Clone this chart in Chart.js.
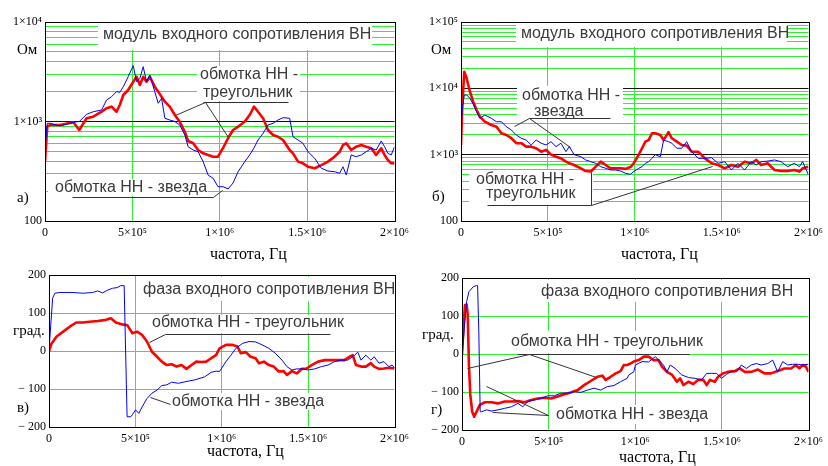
<!DOCTYPE html>
<html><head><meta charset="utf-8">
<script src="https://cdn.jsdelivr.net/npm/chart.js@4.4.1/dist/chart.umd.min.js"></script>
<style>
html,body{margin:0;padding:0;background:#fff;width:828px;height:466px;overflow:hidden}
#wrap{position:relative;width:828px;height:466px}
canvas{position:absolute}
.t{position:absolute;white-space:nowrap;z-index:5}
.s{font-family:'Liberation Sans',Arial,sans-serif;color:#3a3a3a}
.r{font-family:'Liberation Serif','Times New Roman',serif;color:#000}
</style></head><body><div id="wrap">
<canvas id="ca" width="414" height="245" style="left:0;top:0"></canvas>
<canvas id="cb" width="414" height="245" style="left:414px;top:0"></canvas>
<canvas id="cc" width="414" height="221" style="left:0;top:245px"></canvas>
<canvas id="cd" width="414" height="221" style="left:414px;top:245px"></canvas>
</div>
<script>
// ---------- tick values / labels ----------
const xTickValues = [0, 500000, 1000000, 1500000, 2000000];
const xTickLabels = ['0', '5×10⁵', '1×10⁶', '1.5×10⁶', '2×10⁶'];
const yDecadesA = [100, 1000, 10000];
const yDecadeLabelsA = ['100', '1×10³', '1×10⁴'];
const yDecadesB = [100, 1000, 10000, 100000];
const yDecadeLabelsB = ['100', '1×10³', '1×10⁴', '1×10⁵'];
const phaseTicks = [-200, -100, 0, 100, 200];
const phaseTickLabels = ['− 200', '− 100', '0', '100', '200'];

// ---------- panel а: impedance modulus, Ohm ----------
const freqA = [0,13000,29000,86000,162000,196000,238000,276000,324000,352000,381000,409000,428000,448000,476000,505000,524000,543000,562000,581000,600000,628000,648000,667000,686000,714000,743000,771000,800000,819000,848000,876000,905000,933000,962000,990000,1019000,1048000,1076000,1105000,1143000,1171000,1196000,1219000,1248000,1276000,1305000,1333000,1362000,1400000,1419000,1448000,1476000,1505000,1543000,1581000,1619000,1657000,1686000,1705000,1724000,1752000,1781000,1810000,1838000,1867000,1895000,1924000,1943000,1962000,1981000,2000000];
const deltaA = [395,887,922,922,982,822,1077,1117,1254,1358,1409,1254,1465,1846,2073,2512,2818,2328,2818,2512,2818,2239,1995,1775,1581,1409,1162,995,789,637,604,517,479,461,443,443,542,683,822,887,1000,1162,1409,1254,1077,822,731,703,652,517,479,395,380,351,339,365,395,443,497,581,604,517,558,581,558,538,461,538,461,410,380,380];
const starA = [538,959,959,901,982,1000,1181,1254,1305,1644,1775,1995,1963,2239,2818,3639,2512,2716,3556,2512,2931,1995,1524,1710,1077,1035,1000,922,731,558,517,497,395,290,269,221,221,210,241,313,395,461,542,652,761,922,959,1035,1092,1077,703,652,604,497,427,339,318,313,302,351,290,461,443,461,497,538,517,637,558,479,461,558];

// ---------- panel б: impedance modulus, Ohm ----------
const freqB = [0,8000,19000,32500,51400,70300,89700,108600,137000,175000,204000,232600,261000,290000,318000,347000,375000,404000,432600,461000,489700,518000,547000,575000,604000,623000,651000,690000,718000,747000,775000,804000,832600,861000,890000,918000,947000,975000,994000,1023000,1042000,1061000,1080000,1099000,1118000,1147000,1166000,1194000,1213000,1242000,1270000,1299000,1327000,1366000,1404000,1442000,1480000,1518000,1556000,1594000,1632000,1670000,1699000,1727000,1766000,1804000,1842000,1880000,1918000,1947000,1966000,2000000];
const deltaB = [1400,6000,17800,14200,8900,6290,4710,3740,3140,2800,2640,2100,1980,1770,1490,1490,1320,1320,1250,1110,1180,1000,930,880,784,741,699,623,567,556,659,784,699,623,623,623,610,650,741,1000,1250,1570,1660,2100,2100,1980,1660,2190,1770,1570,1400,1370,1110,1100,880,741,699,623,699,659,784,741,832,699,741,587,567,567,587,556,623,659];
const starB = [2640,5000,7900,7940,7080,5740,4440,3530,3960,3530,3140,3140,2640,2350,1980,1770,1660,1400,1660,1490,1400,1570,1320,1490,1110,1320,1000,930,832,784,741,659,623,587,587,567,524,506,556,623,659,741,784,880,1000,930,1660,1570,1490,1250,1250,1570,1110,880,880,900,741,784,587,741,587,784,699,784,800,832,784,659,741,659,784,494];

// ---------- panel в: phase, degrees ----------
const freqC_delta = [0,15000,44000,82000,120000,158000,196000,234000,282000,330000,358000,387000,425000,453000,482000,510000,539000,567000,596000,625000,653000,682000,710000,739000,767000,796000,825000,853000,882000,910000,939000,967000,987000,1024000,1063000,1091000,1110000,1139000,1167000,1196000,1215000,1244000,1273000,1301000,1330000,1358000,1377000,1406000,1434000,1463000,1491000,1520000,1558000,1596000,1634000,1672000,1710000,1739000,1758000,1777000,1806000,1834000,1863000,1882000,1910000,1939000,1967000,2000000];
const phaseC_delta = [0,20,38,51,64,75,75,77,79,82,86,75,70,68,47,51,42,25,-2,-15,-28,-37,-35,-41,-37,-47,-37,-28,-29,-28,-19,-11,7,16,16,12,-6,-3,-15,-19,-32,-28,-37,-41,-54,-53,-63,-53,-59,-47,-46,-37,-28,-24,-24,-24,-24,-15,-11,-37,-41,-41,-32,-41,-47,-46,-44,-46];
const freqC_star = [0,10000,21000,34000,63000,139000,196000,253000,282000,310000,339000,367000,396000,415000,435000,452000,473000,482000,501000,520000,539000,567000,596000,625000,653000,682000,710000,749000,787000,844000,901000,939000,967000,987000,1024000,1053000,1082000,1120000,1158000,1196000,1234000,1273000,1310000,1349000,1377000,1406000,1434000,1463000,1501000,1539000,1577000,1615000,1653000,1691000,1730000,1767000,1787000,1806000,1834000,1863000,1882000,1910000,1939000,1967000,1987000,2000000];
const phaseC_star = [0,68,139,152,154,154,152,154,158,153,160,165,167,172,172,-173,-173,-168,-155,-164,-147,-125,-111,-103,-91,-89,-82,-85,-81,-76,-68,-56,-53,-54,-28,-11,7,20,25,24,16,7,-6,-24,-41,-50,-47,-47,-50,-47,-41,-37,-28,-24,-24,-12,-3,-24,-11,-24,-15,-32,-28,-41,-37,-45];

// ---------- panel г: phase, degrees ----------
const freqD_delta = [0,7500,17000,27000,33000,40000,48000,59000,70500,84000,103000,132000,170000,208000,246000,285000,323000,361000,399000,437000,476000,514000,552000,590000,629000,667000,705000,743000,781000,810000,829000,858000,887000,915000,934000,953000,973000,991000,1020000,1049000,1077000,1106000,1135000,1154000,1183000,1211000,1240000,1259000,1278000,1307000,1335000,1364000,1393000,1412000,1431000,1459000,1478000,1507000,1536000,1574000,1603000,1632000,1670000,1708000,1746000,1784000,1822000,1860000,1899000,1927000,1947000,1966000,1985000,2000000];
const phaseD_delta = [0,59,129,130,103,-29,-108,-152,-165,-152,-134,-127,-127,-130,-125,-125,-124,-127,-121,-117,-115,-117,-112,-106,-101,-95,-82,-71,-60,-57,-68,-60,-51,-45,-29,-29,-25,-20,-16,-7,-7,-16,-16,-33,-47,-54,-73,-64,-82,-73,-79,-68,-68,-82,-68,-73,-60,-51,-47,-45,-38,-47,-47,-41,-51,-51,-45,-38,-38,-29,-38,-29,-33,-47];
const freqD_star = [2000,13000,27000,40000,65000,84000,90000,97000,105000,113000,142000,170000,208000,246000,285000,323000,351000,380000,418000,457000,495000,533000,571000,609000,648000,686000,724000,762000,801000,838000,877000,915000,953000,963000,991000,1001000,1039000,1077000,1116000,1135000,1163000,1183000,1202000,1230000,1268000,1307000,1345000,1383000,1412000,1440000,1469000,1498000,1526000,1555000,1584000,1612000,1641000,1670000,1698000,1727000,1765000,1793000,1822000,1851000,1880000,1908000,1937000,1966000,2000000];
const phaseD_star = [0,68,138,164,177,180,180,59,-152,-152,-147,-150,-147,-143,-139,-130,-139,-125,-121,-117,-110,-110,-103,-103,-99,-101,-95,-90,-95,-86,-83,-73,-64,-55,-47,-29,-20,-21,-7,-16,-29,-47,-29,-38,-55,-62,-64,-68,-51,-51,-51,-64,-54,-45,-47,-29,-38,-29,-25,-29,-25,-16,-47,-20,-29,-27,-27,-29,-27];

// ---------- drawing ----------
const GREEN = '#2ff02f';
const CLEAR = 'rgba(0,0,0,0)';
const SERIF = "'Liberation Serif','Times New Roman',serif";

function pts(f, v) { return f.map((x, i) => ({ x: x, y: v[i] })); }
function logTicks(decades) {
  const t = [];
  for (let i = 0; i < decades.length - 1; i++) for (let k = 1; k < 10; k++) t.push(decades[i] * k);
  t.push(decades[decades.length - 1]);
  return t;
}

const frame = {
  id: 'frame',
  beforeDatasetsDraw(chart, args, o) {
    const ctx = chart.ctx; ctx.save(); ctx.fillStyle = '#fff';
    (o.boxes || []).forEach(b => ctx.fillRect(b[0], b[1], b[2], b[3]));
    ctx.restore();
  },
  afterDatasetsDraw(chart, args, o) {
    const ctx = chart.ctx, a = chart.chartArea, x = chart.scales.x, y = chart.scales.y;
    ctx.save();
    ctx.strokeStyle = '#000'; ctx.lineWidth = 1;
    ctx.strokeRect(Math.round(a.left) + 0.5, Math.round(a.top) + 0.5, Math.round(a.right - a.left), Math.round(a.bottom - a.top));
    ctx.strokeStyle = '#333';
    (o.leaders || []).forEach(s => {
      ctx.beginPath();
      ctx.moveTo(Math.round(x.getPixelForValue(s[0])) + 0.5, Math.round(y.getPixelForValue(s[1])) + 0.5);
      ctx.lineTo(Math.round(x.getPixelForValue(s[2])) + 0.5, Math.round(y.getPixelForValue(s[3])) + 0.5);
      ctx.stroke();
    });
    ctx.restore();
  }
};

function build(o) {
  const yTicks = o.log ? logTicks(o.decades) : phaseTicks;
  const labVals = o.log ? o.decades : phaseTicks;
  const labTxt = o.log ? o.decadeLabels : phaseTickLabels;
  new Chart(document.getElementById(o.id), {
    type: 'line',
    data: { datasets: [
      { data: pts(o.fStar, o.star), borderColor: '#0000ff', borderWidth: 1, pointRadius: 0, tension: 0 },
      { data: pts(o.fDelta, o.delta), borderColor: '#ff0000', borderWidth: 2.6, pointRadius: 0, tension: 0, borderJoinStyle: 'round' }
    ] },
    options: {
      responsive: false, animation: false, devicePixelRatio: 1,
      layout: { padding: { left: 0, top: o.padTop, right: o.padRight, bottom: 0 } },
      plugins: { legend: { display: false }, tooltip: { enabled: false }, frame: { boxes: o.boxes, leaders: o.leaders } },
      scales: {
        x: {
          type: 'linear', min: 0, max: 2000000,
          afterBuildTicks: s => { s.ticks = xTickValues.map(v => ({ value: v })); },
          afterFit: s => { s.height = o.xHeight; },
          grid: { drawTicks: false, lineWidth: 1, color: c => (c.tick && c.tick.value > 0 && c.tick.value < 2000000) ? GREEN : CLEAR },
          border: { display: false },
          ticks: { autoSkip: false, maxRotation: 0, padding: 5, color: '#000', font: { family: SERIF, size: 12 },
            callback: (v, i) => xTickLabels[i] }
        },
        y: {
          type: o.log ? 'logarithmic' : 'linear', min: o.yMin, max: o.yMax,
          afterBuildTicks: s => { s.ticks = yTicks.map(v => ({ value: v })); },
          afterFit: s => { s.width = o.yWidth; },
          grid: { drawTicks: false, lineWidth: 1, color: c => {
            const v = c.tick ? c.tick.value : 0;
            if (v <= o.yMin || v >= o.yMax) return CLEAR;
            return o.black.indexOf(v) >= 0 ? '#111' : GREEN; } },
          border: { display: false },
          ticks: { autoSkip: false, padding: 3, color: '#000', font: { family: SERIF, size: 12 },
            callback: v => { const i = labVals.indexOf(v); return i < 0 ? '' : labTxt[i]; } }
        }
      }
    },
    plugins: [frame]
  });
}

build({ id: 'ca', log: true, decades: yDecadesA, decadeLabels: yDecadeLabelsA, yMin: 100, yMax: 10000, black: [1000],
  fStar: freqA, star: starA, fDelta: freqA, delta: deltaA,
  padTop: 22, padRight: 19, yWidth: 45, xHeight: 24,
  boxes: [[98, 24, 274, 26], [197, 66, 103, 35], [48, 179, 160, 17]],
  leaders: [[903000, 1570, 1388000, 1570], [914000, 1570, 743000, 1162], [914000, 1570, 1048000, 700],
            [154000, 174, 960000, 174], [960000, 174, 1012000, 206]] });

build({ id: 'cb', log: true, decades: yDecadesB, decadeLabels: yDecadeLabelsB, yMin: 100, yMax: 100000, black: [1000, 10000],
  fStar: freqB, star: starB, fDelta: freqB, delta: deltaB,
  padTop: 22, padRight: 17, yWidth: 47, xHeight: 24,
  boxes: [[102, 23, 271, 24], [103, 86, 106, 32], [55, 170, 124, 35]],
  leaders: [[388600, 3535, 857000, 3535], [388600, 3535, 303000, 2700], [388600, 3535, 628500, 1318],
            [146900, 174, 746800, 174], [746800, 174, 746800, 553], [746800, 174, 1445600, 682]] });

build({ id: 'cc', log: false, yMin: -200, yMax: 200, black: [],
  fStar: freqC_star, star: phaseC_star, fDelta: freqC_delta, delta: phaseC_delta,
  padTop: 30, padRight: 15, yWidth: 49, xHeight: 39,
  boxes: [[140, 32, 258, 24], [148, 70, 194, 18], [170, 148, 155, 17]],
  leaders: [[674300, 44, 1628500, 44], [674300, 44, 577000, 24], [585000, -120, 703000, -139]] });

build({ id: 'cd', log: false, yMin: -200, yMax: 200, black: [],
  fStar: freqD_star, star: phaseD_star, fDelta: freqD_delta, delta: phaseD_delta,
  padTop: 33, padRight: 17, yWidth: 48, xHeight: 36,
  boxes: [[123, 35, 256, 22], [93, 86, 195, 22], [138, 160, 156, 19]],
  leaders: [[315200, 0, 1312400, 0], [384000, 0, 28700, -37], [384000, 0, 773700, -60],
            [137500, -83, 498600, -160], [171900, -152, 498600, -160]] });

// ---------- text labels (text, left, baseline, kind, size) ----------
const texts = [
  ['модуль входного сопротивления ВН', 103, 40, 's', 16],
  ['обмотка НН -', 200, 80, 's', 16],
  ['треугольник', 203, 98, 's', 16],
  ['обмотка НН - звезда', 55, 193, 's', 16],
  ['модуль входного сопротивления ВН', 521, 39, 's', 16],
  ['обмотка НН -', 522, 101, 's', 16],
  ['звезда', 534, 116.5, 's', 16],
  ['обмотка НН -', 476, 185, 's', 16],
  ['треугольник', 486, 198.5, 's', 16],
  ['фаза входного сопротивления ВН', 143, 295, 's', 16],
  ['обмотка НН - треугольник', 152, 328, 's', 16],
  ['обмотка НН - звезда', 172, 406.5, 's', 16],
  ['фаза входного сопротивления ВН', 541, 296.5, 's', 16],
  ['обмотка НН - треугольник', 511, 346.5, 's', 16],
  ['обмотка НН - звезда', 556, 420, 's', 16],
  ['Ом', 17, 55, 'r', 15],
  ['а)', 17, 203, 'r', 15],
  ['Ом', 431, 55, 'r', 15],
  ['б)', 432, 202, 'r', 15],
  ['град.', 13, 336, 'r', 15],
  ['в)', 17, 413, 'r', 15],
  ['град.', 422, 339.5, 'r', 15],
  ['г)', 431, 415, 'r', 15],
  ['частота, Гц', 210, 259, 'r', 16],
  ['частота, Гц', 621, 259, 'r', 16],
  ['частота, Гц', 207, 456, 'r', 16],
  ['частота, Гц', 619, 462, 'r', 16]
];
const wrap = document.getElementById('wrap');
texts.forEach(t => {
  const d = document.createElement('div');
  d.className = 't ' + t[3];
  d.textContent = t[0];
  d.style.fontSize = t[4] + 'px';
  d.style.lineHeight = t[4] + 'px';
  d.style.left = t[1] + 'px';
  d.style.top = (t[2] - (t[3] === 's' ? 0.8465 : 0.8375) * t[4]) + 'px';
  wrap.appendChild(d);
});
</script>
</body></html>
